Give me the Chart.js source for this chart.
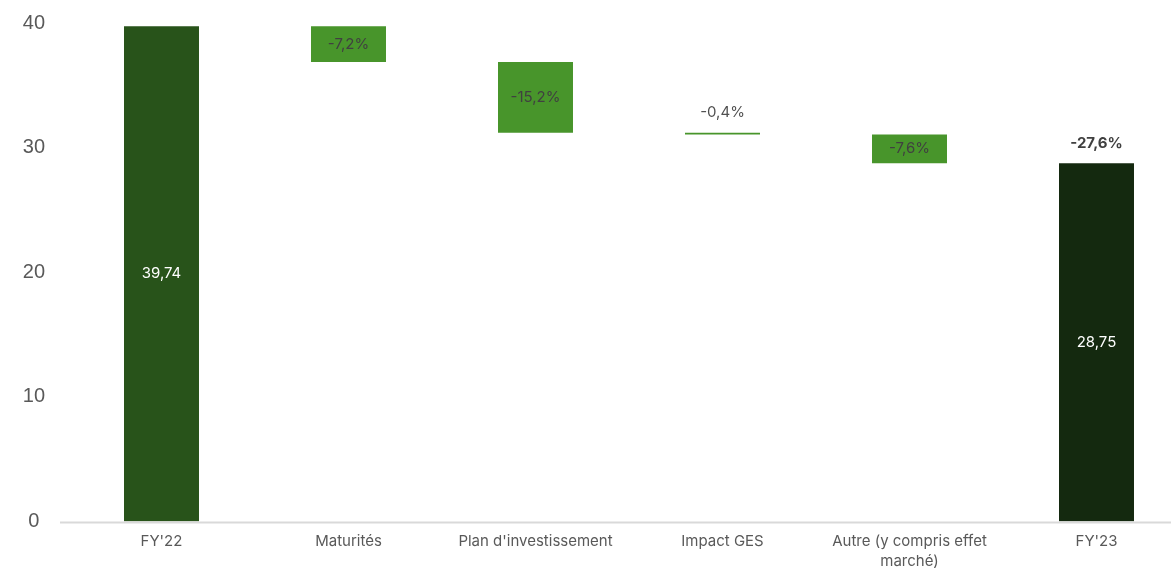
<!DOCTYPE html>
<html lang="fr">
<head>
<meta charset="utf-8">
<script src="https://cdn.jsdelivr.net/npm/chart.js@4/dist/chart.umd.min.js"></script>
<style>
    html, body { margin: 0; padding: 0; background: #fff; overflow: hidden; }
    #cadre { width: 1190px; height: 568px; }
</style>
</head>
<body>
<div id="cadre"><canvas id="graficoCascada"></canvas></div>
<script>
// Données
const categories = ["FY'22", 'Maturités', "Plan d'investissement", 'Impact GES', ['Autre (y compris effet', 'marché)'], "FY'23"];
const debut = [0, 39.74, 36.88, 31.2, 31.06, 0];
const fin = [39.74, 36.88, 31.2, 31.06, 28.75, 28.75];
const etiquettes = ['39,74', '-7,2%', '-15,2%', '-0,4%', '-7,6%', '28,75'];
const variationTotale = '-27,6%';
const graduations = [0, 10, 20, 30, 40];
const couleurs = ['#28531a', '#48952b', '#48952b', '#48952b', '#48952b', '#14290f'];

const policeTexte = "Inter, 'Open Sans', sans-serif";

// étiquettes de données dessinées par-dessus les barres
const pluginEtiquettes = {
    id: 'etiquettes',
    afterDatasetsDraw(chart) {
        const ctx = chart.ctx;
        const meta = chart.getDatasetMeta(0);
        ctx.save();
        ctx.textAlign = 'center';
        ctx.textBaseline = 'middle';
        meta.data.forEach((barre, i) => {
            const haut = Math.min(barre.y, barre.base);
            const bas = Math.max(barre.y, barre.base);
            const estTotal = (i === 0 || i === meta.data.length - 1);
            ctx.font = '15px ' + policeTexte;
            if (estTotal) {
                ctx.fillStyle = '#ffffff';
                ctx.fillText(etiquettes[i], barre.x, (haut + bas) / 2);
            } else if (bas - haut > 18) {
                ctx.fillStyle = '#404040';
                ctx.fillText(etiquettes[i], barre.x, (haut + bas) / 2);
            } else {
                ctx.fillStyle = '#505050';
                ctx.fillText(etiquettes[i], barre.x, haut - 20);
            }
        });
        // variation totale au-dessus de la dernière barre
        const derniere = meta.data[meta.data.length - 1];
        ctx.font = 'bold 15px ' + policeTexte;
        ctx.fillStyle = '#404040';
        ctx.fillText(variationTotale, derniere.x, Math.min(derniere.y, derniere.base) - 20);
        ctx.restore();
    }
};

// ligne de l'axe horizontal
const pluginAxe = {
    id: 'axe',
    afterDatasetsDraw(chart) {
        const ctx = chart.ctx;
        const y = chart.scales.y.getPixelForValue(0);
        ctx.save();
        ctx.strokeStyle = '#d9d9d9';
        ctx.lineWidth = 2;
        ctx.beginPath();
        ctx.moveTo(60, y + 1);
        ctx.lineTo(chart.width, y + 1);
        ctx.stroke();
        ctx.restore();
    }
};

const ctx = document.getElementById('graficoCascada').getContext('2d');
new Chart(ctx, {
    type: 'bar',
    data: {
        labels: categories,
        datasets: [{
            data: debut.map((d, i) => [d, fin[i]]),
            backgroundColor: couleurs,
            borderWidth: 0,
            borderSkipped: false,
            barPercentage: 0.401,
            categoryPercentage: 1
        }]
    },
    options: {
        responsive: true,
        maintainAspectRatio: false,
        animation: false,
        layout: { padding: 0 },
        plugins: {
            legend: { display: false },
            tooltip: { enabled: false }
        },
        scales: {
            x: {
                grid: { display: false, drawTicks: false },
                border: { display: false },
                ticks: {
                    color: '#595959',
                    padding: 10,
                    maxRotation: 0,
                    autoSkip: false,
                    font: { family: policeTexte, size: 15, lineHeight: 1.35 }
                },
                afterFit(scale) { scale.height = 46.5; }
            },
            y: {
                min: 0,
                max: 40,
                afterBuildTicks(scale) { scale.ticks = graduations.map(v => ({ value: v })); },
                grid: { display: false, drawTicks: false },
                border: { display: false },
                ticks: {
                    color: '#595959',
                    padding: 23,
                    crossAlign: 'center',
                    font: { family: "'Liberation Sans', Arial, sans-serif", size: 20 }
                },
                afterFit(scale) {
                    scale.width = 68;
                    scale.paddingTop = 23;
                    scale.paddingBottom = 12;
                }
            }
        }
    },
    plugins: [pluginEtiquettes, pluginAxe]
});
</script>
</body>
</html>
